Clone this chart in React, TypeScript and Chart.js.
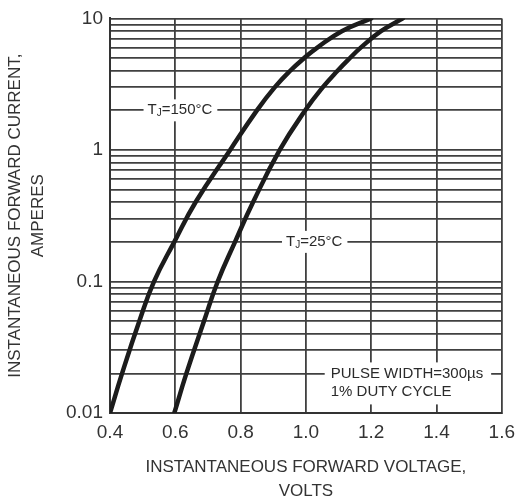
import React, { useEffect, useRef } from 'react';
import { Chart, registerables } from 'chart.js';

Chart.register(...registerables);

// ---- data ----
const X_TICKS = [0.4, 0.6, 0.8, 1.0, 1.2, 1.4, 1.6];
const X_TICK_LABELS = ['0.4', '0.6', '0.8', '1.0', '1.2', '1.4', '1.6'];
const Y_DECADES = [0.01, 0.1, 1, 10];
const Y_TICK_LABELS = ['0.01', '0.1', '1', '10'];
const Y_MINOR_STEPS = [1, 2, 3, 4, 5, 6, 7, 8, 9];

const V_150 = [0.40, 0.437, 0.49, 0.535, 0.597, 0.662, 0.768, 0.85, 0.905, 0.952, 0.995, 1.035, 1.11, 1.20];
const I_150 = [0.01, 0.02, 0.05, 0.1, 0.2, 0.4, 1, 2, 3, 4, 5, 6, 8, 10];
const V_25 = [0.597, 0.634, 0.688, 0.73, 0.783, 0.838, 0.92, 0.998, 1.052, 1.097, 1.135, 1.168, 1.23, 1.297];
const I_25 = [0.01, 0.02, 0.05, 0.1, 0.2, 0.4, 1, 2, 3, 4, 5, 6, 8, 10];

const X_TITLE = ['INSTANTANEOUS FORWARD VOLTAGE,', 'VOLTS'];
const Y_TITLE = ['INSTANTANEOUS FORWARD CURRENT,', 'AMPERES'];
const LABEL_150 = '=150°C';
const LABEL_25 = '=25°C';
const PULSE_LINES = ['PULSE WIDTH=300µs', '1% DUTY CYCLE'];

// annotation anchors (data coordinates)
const ANCHOR_150 = { x: 0.515, y: 2 };
const ANCHOR_25 = { x: 0.939, y: 0.2 };
const ANCHOR_PULSE = { x: 1.076, y: 0.02 };

const FONT = '"Liberation Sans", Arial, Helvetica, sans-serif';
const INK = '#2a2a2a';
const GRID = '#404040';

const annotationPlugin = {
  id: 'annotations',
  beforeDatasetsDraw(chart: any) {
    const { ctx, scales } = chart;
    const xs = scales.x;
    const ys = scales.y;
    const main = `15px ${FONT}`;
    const sub = `10px ${FONT}`;
    ctx.save();
    ctx.textBaseline = 'middle';
    ctx.textAlign = 'left';

    const tj = (anchor: { x: number; y: number }, rest: string) => {
      const px = xs.getPixelForValue(anchor.x);
      const py = ys.getPixelForValue(anchor.y);
      ctx.font = main;
      const w1 = ctx.measureText('T').width;
      const w3 = ctx.measureText(rest).width;
      ctx.font = sub;
      const w2 = ctx.measureText('J').width;
      const total = w1 + w2 + w3;
      ctx.fillStyle = '#fff';
      ctx.fillRect(px - 4, py - 11, total + 9, 22);
      ctx.fillStyle = INK;
      ctx.font = main;
      ctx.fillText('T', px, py);
      ctx.font = sub;
      ctx.fillText('J', px + w1, py + 3);
      ctx.font = main;
      ctx.fillText(rest, px + w1 + w2, py);
    };

    tj(ANCHOR_150, LABEL_150);
    tj(ANCHOR_25, LABEL_25);

    const px = xs.getPixelForValue(ANCHOR_PULSE.x);
    const py = ys.getPixelForValue(ANCHOR_PULSE.y);
    ctx.font = main;
    const w = Math.max(...PULSE_LINES.map((t) => ctx.measureText(t).width));
    ctx.fillStyle = '#fff';
    ctx.fillRect(px - 6, py - 11, w + 14, 42);
    ctx.fillStyle = INK;
    PULSE_LINES.forEach((t, i) => ctx.fillText(t, px, py + i * 18));
    ctx.restore();
  },
};

export default function App() {
  const canvasRef = useRef<HTMLCanvasElement | null>(null);

  useEffect(() => {
    if (!canvasRef.current) return;
    const gridValues: number[] = [];
    Y_DECADES.forEach((d, i) => {
      if (i === Y_DECADES.length - 1) {
        gridValues.push(d);
      } else {
        Y_MINOR_STEPS.forEach((m) => gridValues.push(+(d * m).toPrecision(6)));
      }
    });

    const lineStyle = {
      showLine: true,
      borderColor: '#1c1c1c',
      borderWidth: 4.5,
      borderCapStyle: 'round',
      borderJoinStyle: 'round',
      pointRadius: 0,
      tension: 0.45,
    };

    const chart = new Chart(canvasRef.current, {
      type: 'scatter',
      data: {
        datasets: [
          {
            label: 'TJ=150°C',
            data: V_150.map((v, i) => ({ x: v, y: I_150[i] })),
            ...lineStyle,
          },
          {
            label: 'TJ=25°C',
            data: V_25.map((v, i) => ({ x: v, y: I_25[i] })),
            ...lineStyle,
          },
        ],
      },
      options: {
        animation: false,
        responsive: true,
        maintainAspectRatio: false,
        layout: { padding: { left: 0, right: 17, top: 14, bottom: 0 } },
        plugins: { legend: { display: false }, tooltip: { enabled: false } },
        scales: {
          x: {
            type: 'linear',
            min: 0.4,
            max: 1.6,
            afterBuildTicks: (scale: any) => {
              scale.ticks = X_TICKS.map((v) => ({ value: v }));
            },
            afterFit: (scale: any) => {
              scale.height = 91;
            },
            ticks: {
              autoSkip: false,
              maxRotation: 0,
              padding: 8,
              color: '#333',
              font: { family: FONT, size: 19 },
              callback: (val: any) => {
                const i = X_TICKS.findIndex((t) => Math.abs(t - val) < 1e-6);
                return i >= 0 ? X_TICK_LABELS[i] : '';
              },
            },
            grid: { color: GRID, lineWidth: 1.8, drawTicks: false },
            border: { display: true, color: '#333', width: 2 },
            title: {
              display: true,
              text: X_TITLE,
              color: '#333',
              font: { family: FONT, size: 17, lineHeight: 1.4 },
              padding: { top: 0, bottom: 1 },
            },
          },
          y: {
            type: 'logarithmic',
            min: 0.01,
            max: 10,
            afterBuildTicks: (scale: any) => {
              scale.ticks = gridValues.map((v) => ({ value: v }));
            },
            afterFit: (scale: any) => {
              scale.width = 110;
            },
            ticks: {
              autoSkip: false,
              padding: 7,
              color: '#333',
              font: { family: FONT, size: 19 },
              callback: (val: any) => {
                const i = Y_DECADES.findIndex((d) => Math.abs(d - val) / d < 1e-6);
                return i >= 0 ? Y_TICK_LABELS[i] : '';
              },
            },
            grid: { color: GRID, lineWidth: 1.8, drawTicks: false },
            border: { display: true, color: '#333', width: 2 },
            title: {
              display: true,
              text: Y_TITLE,
              color: '#333',
              font: { family: FONT, size: 17, lineHeight: 1.35 },
              padding: { top: 4, bottom: 0 },
            },
          },
        },
      } as any,
      plugins: [annotationPlugin],
    });
    return () => chart.destroy();
  }, []);

  return (
    <div style={{ position: 'absolute', left: 0, top: 0, width: 523, height: 504, background: '#fff' }}>
      <canvas ref={canvasRef} />
    </div>
  );
}
